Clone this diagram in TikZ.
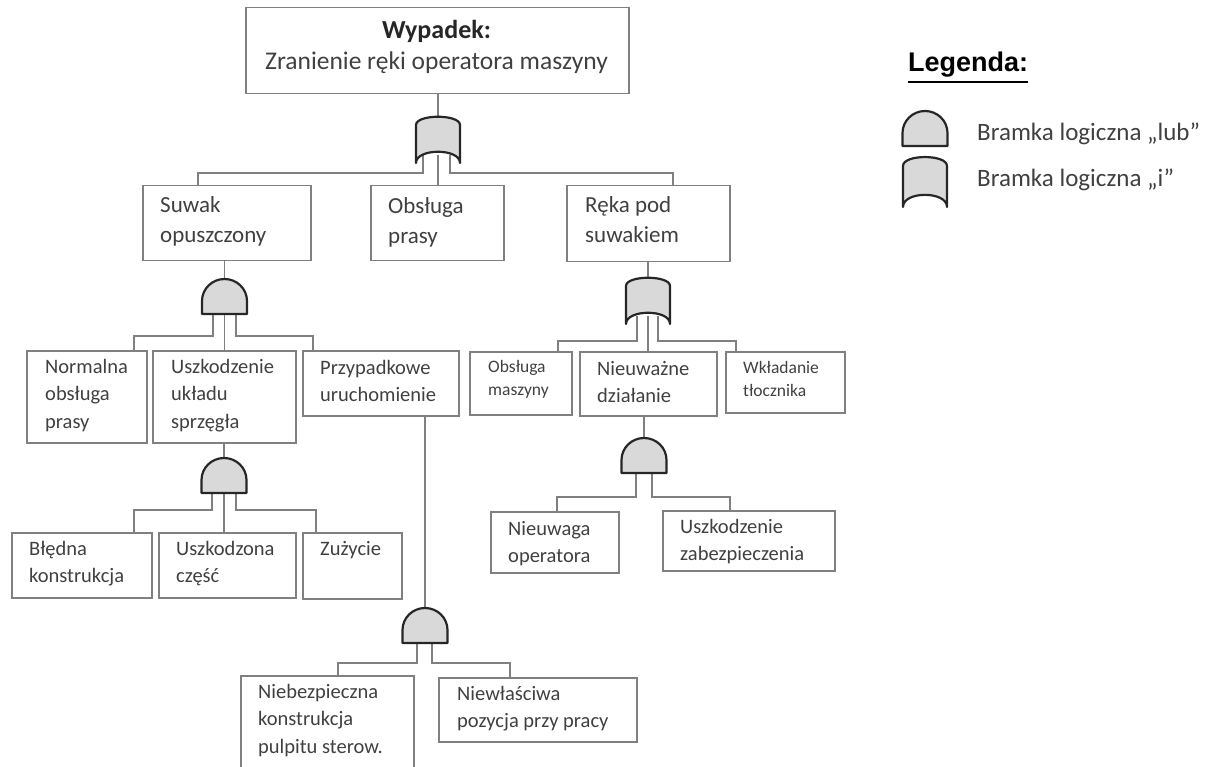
\documentclass[tikz,border=0pt]{standalone}
\usepackage{fontspec}
\setmainfont{Carlito}
\newfontfamily\arialf{Liberation Sans}
\usetikzlibrary{calc}
\pgfdeclarelayer{bg}
\pgfsetlayers{bg,main}
\definecolor{boxgray}{HTML}{808080}
\definecolor{gateline}{HTML}{262626}
\definecolor{gatefill}{HTML}{D9D9D9}
\definecolor{txt}{HTML}{404040}
\newcommand{\ml}[1]{\begin{tabular}[t]{@{}l@{}}#1\end{tabular}}
\tikzset{
  box/.style={draw=boxgray, line width=1.5pt, inner sep=0pt, anchor=north west},
  conn/.style={draw=boxgray, line width=1.5pt},
  txtA/.style={font=\fontsize{23}{30}\selectfont, text=txt, inner sep=0pt, anchor=base west},
  txtB/.style={font=\fontsize{20.5}{27.5}\selectfont, text=txt, inner sep=0pt, anchor=base west},
  txtC/.style={font=\fontsize{17.5}{23}\selectfont, text=txt, inner sep=0pt, anchor=base west},
  gatestyle/.style={draw=gateline, line width=2.2pt, fill=gatefill, line join=round},
  orgate/.pic={
    \path[gatestyle] (-22.5,0) -- (-22.5,-13) arc[start angle=180, end angle=360, x radius=22.5, y radius=22] -- (22.5,0) -- cycle;
    \coordinate (-top) at (0,-35);
    \coordinate (-bot) at (0,-2);
  },
  andgate/.pic={
    \path[gatestyle] (-22,0) -- (-22,-38) .. controls (-22,-49) and (22,-49) .. (22,-38) -- (22,0) .. controls (22,-15) and (-22,-15) .. cycle;
    \coordinate (-top) at (0,-46);
    \coordinate (-bot) at (0,-8);
  }
}
\begin{document}
\begin{tikzpicture}[x=1pt,y=-1pt]
\useasboundingbox (0,0) rectangle (1212,767);

% ---- boxes ----
\node[box, minimum width=383pt, minimum height=86pt] (top) at (245,7) {};
\node[font=\fontsize{26}{31}\selectfont\bfseries, text=black!85, inner sep=0pt, anchor=base] (topA) at (436.5,39) {Wypadek:};
\node[font=\fontsize{25.5}{31}\selectfont, text=txt, inner sep=0pt, anchor=base] (topB) at (436.5,70) {Zranienie ręki operatora maszyny};

\node[box, minimum width=168pt, minimum height=75pt] (suwak) at (142,185) {};
\node[txtA] at (160,213) {\ml{Suwak\\opuszczony}};
\node[box, minimum width=133pt, minimum height=75pt] (obs) at (370,185) {};
\node[txtA] at (388,214) {\ml{Obsługa\\prasy}};
\node[box, minimum width=163pt, minimum height=76pt] (reka) at (566,185) {};
\node[txtA] at (585,213) {\ml{Ręka pod\\suwakiem}};

\node[box, minimum width=120pt, minimum height=92pt] (norm) at (26,350) {};
\node[txtB] at (45,373) {\ml{Normalna\\obsługa\\prasy}};
\node[box, minimum width=143pt, minimum height=92pt] (sprz) at (152,350) {};
\node[txtB] at (171,373) {\ml{Uszkodzenie\\układu\\sprzęgła}};
\node[box, minimum width=156pt, minimum height=65pt] (przyp) at (302,350) {};
\node[txtB] at (320,374) {\ml{Przypadkowe\\uruchomienie}};

\node[box, minimum width=102pt, minimum height=63pt] (obsm) at (469,351) {};
\node[txtC] at (488,372) {\ml{Obsługa\\maszyny}};
\node[box, minimum width=137pt, minimum height=64pt] (nieuw) at (579,351) {};
\node[txtB] at (597,375) {\ml{Nieuważne\\działanie}};
\node[box, minimum width=119pt, minimum height=61pt] (wklad) at (725,351) {};
\node[txtC] at (743,373) {\ml{Wkładanie\\tłocznika}};

\node[box, minimum width=128pt, minimum height=61pt] (nieuwaga) at (490,511) {};
\node[txtB] at (508,535) {\ml{Nieuwaga\\operatora}};
\node[box, minimum width=172pt, minimum height=60pt] (uszzab) at (662,510) {};
\node[txtB] at (680,533) {\ml{Uszkodzenie\\zabezpieczenia}};

\node[box, minimum width=140pt, minimum height=65pt] (bledna) at (11,532) {};
\node[txtB] at (29,555) {\ml{Błędna\\konstrukcja}};
\node[box, minimum width=137pt, minimum height=65pt] (uszcz) at (158,532) {};
\node[txtB] at (176,555) {\ml{Uszkodzona\\część}};
\node[box, minimum width=99pt, minimum height=66pt] (zuz) at (302,532) {};
\node[txtB] at (320,555) {Zużycie};

\node[box, minimum width=173pt, minimum height=130pt] (niebez) at (240,675) {};
\node[txtB] at (258,698) {\ml{Niebezpieczna\\konstrukcja\\pulpitu sterow.}};
\node[box, minimum width=198pt, minimum height=64pt] (niewl) at (438,677) {};
\node[txtB] at (457,700) {\ml{Niewłaściwa\\pozycja przy pracy}};

% ---- gates ----
\pic (g1) at (438,163) {andgate};
\pic (g2) at (224.5,314) {orgate};
\pic (g3) at (224,493) {orgate};
\pic (g4) at (425,643) {orgate};
\pic (g5) at (648,324) {andgate};
\pic (g6) at (644,473) {orgate};

% ---- connectors ----
\begin{pgfonlayer}{bg}
\draw[conn] (g1-top) -- (g1-top |- top.south);
\draw[conn] ($(g1-bot)+(-15,0)$) |- ($(suwak.north west)+(56,-12)$) -- ($(suwak.north west)+(56,0)$);
\draw[conn] (g1-bot) -- (g1-bot |- obs.north);
\draw[conn] ($(g1-bot)+(12,0)$) |- ($(reka.north west)+(107,-12)$) -- ($(reka.north west)+(107,0)$);

\draw[conn] (g2-top) -- (g2-top |- suwak.south);
\draw[conn] ($(g2-bot)+(-11.5,0)$) |- ($(norm.north west)+(108,-14)$) -- ($(norm.north west)+(108,0)$);
\draw[conn] (g2-bot) -- (g2-bot |- sprz.north);
\draw[conn] ($(g2-bot)+(11.5,0)$) |- ($(przyp.north west)+(11,-14)$) -- ($(przyp.north west)+(11,0)$);

\draw[conn] (g3-top) -- (g3-top |- sprz.south);
\draw[conn] ($(g3-bot)+(-12,0)$) |- ($(bledna.north west)+(123,-22)$) -- ($(bledna.north west)+(123,0)$);
\draw[conn] (g3-bot) -- (g3-bot |- uszcz.north);
\draw[conn] ($(g3-bot)+(12,0)$) |- ($(zuz.north west)+(14,-22)$) -- ($(zuz.north west)+(14,0)$);

\draw[conn] (g4-top) -- (g4-top |- przyp.south);
\draw[conn] ($(g4-bot)+(-8,0)$) |- ($(niebez.north west)+(98,-12)$) -- ($(niebez.north west)+(98,0)$);
\draw[conn] ($(g4-bot)+(7,0)$) |- ($(niewl.north west)+(72,-14)$) -- ($(niewl.north west)+(72,0)$);

\draw[conn] (g5-top) -- (g5-top |- reka.south);
\draw[conn] ($(g5-bot)+(-11,0)$) |- ($(obsm.north west)+(89,-10)$) -- ($(obsm.north west)+(89,0)$);
\draw[conn] (g5-bot) -- (g5-bot |- nieuw.north);
\draw[conn] ($(g5-bot)+(10,0)$) |- ($(wklad.north west)+(11,-10)$) -- ($(wklad.north west)+(11,0)$);

\draw[conn] (g6-top) -- (g6-top |- nieuw.south);
\draw[conn] ($(g6-bot)+(-8,0)$) |- ($(nieuwaga.north west)+(67,-14)$) -- ($(nieuwaga.north west)+(67,0)$);
\draw[conn] ($(g6-bot)+(8,0)$) |- ($(uszzab.north west)+(68,-13)$) -- ($(uszzab.north west)+(68,0)$);
\end{pgfonlayer}

% ---- legend ----
\node[font=\arialf\bfseries\fontsize{27}{30}\selectfont, text=black, inner sep=0pt, anchor=base west] (leg) at (908,72) {Legenda:};
\draw[line width=1.8pt, black] ($(leg.base west)+(0,10)$) -- ($(leg.base east)+(0,10)$);
\pic (lg1) at (925,146) {orgate};
\node[font=\fontsize{25}{28}\selectfont, text=txt, inner sep=0pt, anchor=base west] (lt1) at (977,141) {Bramka logiczna „lub”};
\pic[yscale=1.08] (lg2) at (925,207) {andgate};
\node[font=\fontsize{25}{28}\selectfont, text=txt, inner sep=0pt, anchor=base west] (lt2) at (977,187) {Bramka logiczna „i”};
\end{tikzpicture}
\end{document}
